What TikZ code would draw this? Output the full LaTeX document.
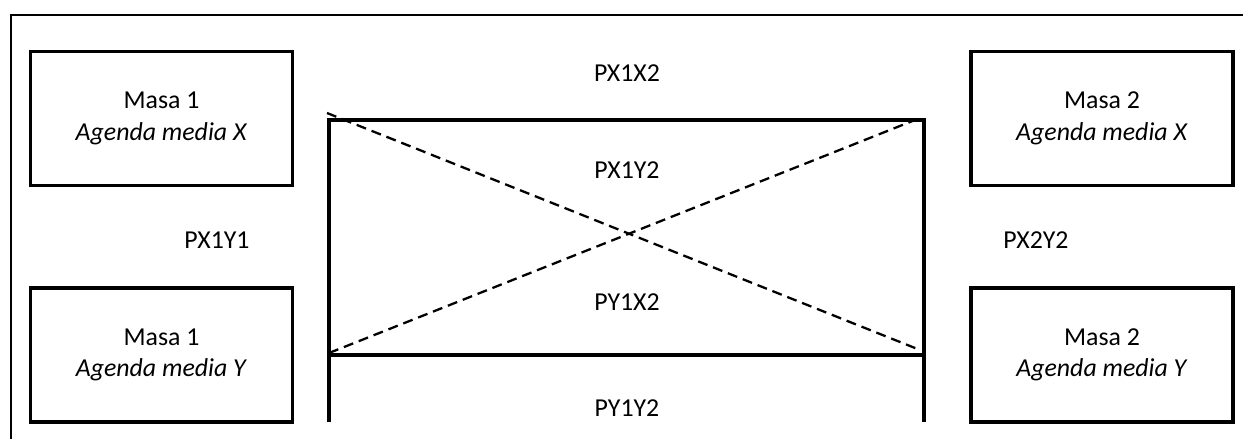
\documentclass[tikz,border=0pt]{standalone}
\usepackage{fontspec}
\setmainfont{Carlito}
\usepackage{tikz}
\usetikzlibrary{arrows}

\begin{document}
\begin{tikzpicture}[line cap=butt,line join=miter,x=0.02cm,y=-0.02cm,
  masa/.style={draw,line width=1.9pt,minimum width=5.24cm,minimum height=2.68cm,align=center,inner sep=0pt,font=\fontsize{14.7}{18}\selectfont},
  lbl/.style={font=\fontsize{14.7}{18}\selectfont,inner sep=0pt},
  cruz/.style={dashed,line width=1.3pt,dash pattern=on 5.7pt off 3.4pt}]
\useasboundingbox (0,0) rectangle (1243,439);
\draw[line width=1.2pt] (11,439)-- (11,15)-- (1243,15);
\node[masa] (m1x) at (161.5,118.5) {Masa 1\\\textit{Agenda media X}};
\node[masa] (m1y) at (161.5,355) {Masa 1\\\textit{Agenda media Y}};
\node[masa] (m2x) at (1102,118.5) {Masa 2\\\textit{Agenda media X}};
\node[masa] (m2y) at (1102,355) {Masa 2\\\textit{Agenda media Y}};
\coordinate (tl) at (329,120);
\coordinate (tr) at (924,120);
\coordinate (bl) at (329,355);
\coordinate (br) at (924,355);
\coordinate (ll) at (329,422);
\coordinate (lr) at (924,422);
\draw[line width=1.9pt] (ll)-- (tl)-- (tr)-- (lr);
\draw[line width=1.9pt] (bl)-- (br);
\coordinate (d1) at (327,113);
\coordinate (d2) at (920,350);
\coordinate (d3) at (329,353);
\coordinate (d4) at (920,118);
\draw[cruz] (d1)-- (d2);
\draw[cruz] (d3)-- (d4);
\node[lbl] (px1x2) at (627,73) {PX1X2};
\node[lbl] (px1y2) at (627,170) {PX1Y2};
\node[lbl] (px1y1) at (217,240) {PX1Y1};
\node[lbl] (px2y2) at (1036,240) {PX2Y2};
\node[lbl] (py1x2) at (627,302) {PY1X2};
\node[lbl] (py1y2) at (627,408) {PY1Y2};
\end{tikzpicture}
\end{document}
